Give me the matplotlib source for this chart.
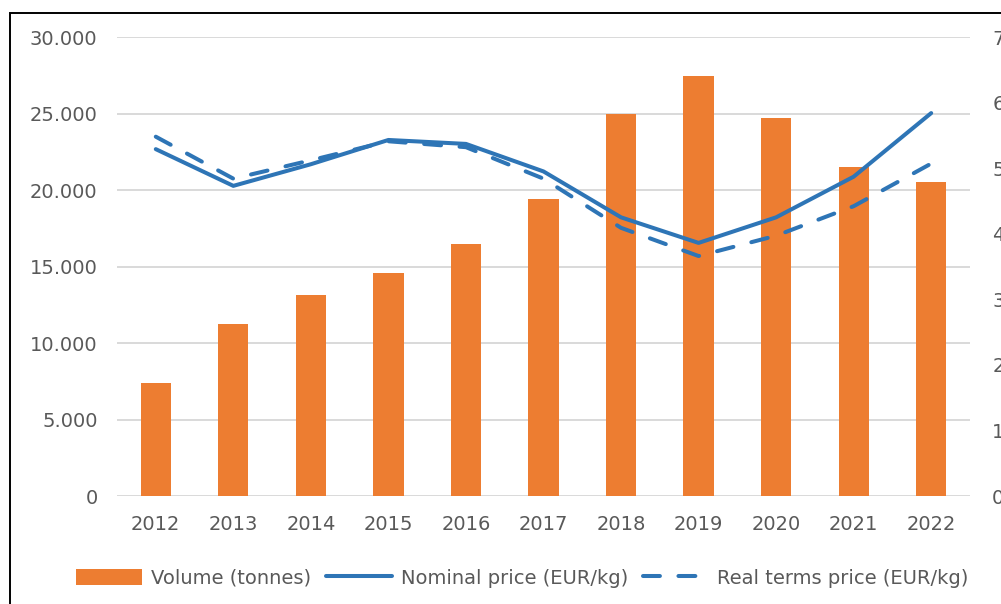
import matplotlib.pyplot as plt
from matplotlib.patches import Rectangle
from matplotlib.ticker import FuncFormatter
import numpy as np

years = ["2012", "2013", "2014", "2015", "2016", "2017", "2018", "2019", "2020", "2021", "2022"]
volume = [7400, 11250, 13150, 14600, 16450, 19400, 25000, 27450, 24700, 21500, 20500]
nominal_price = [5.29, 4.73, 5.06, 5.43, 5.37, 4.95, 4.25, 3.86, 4.25, 4.87, 5.84]
real_price = [5.48, 4.84, 5.12, 5.41, 5.32, 4.84, 4.09, 3.66, 3.97, 4.42, 5.07]

ORANGE = "#ED7D31"
BLUE = "#2E75B6"
GREY = "#595959"
GRID = "#D9D9D9"

plt.rcParams["font.family"] = ["Liberation Sans Narrow", "DejaVu Sans"]

fig = plt.figure(figsize=(10.01, 6.04), dpi=100)
ax = fig.add_axes([0.1169, 0.1788, 0.969 - 0.1169, 0.9387 - 0.1788])
ax2 = ax.twinx()

x = np.arange(len(years))
bars = ax.bar(x, volume, width=0.39, color=ORANGE, zorder=2, label="Volume (tonnes)")

ax.set_ylim(0, 30000)
ax.set_yticks(np.arange(0, 30001, 5000))
ax.yaxis.set_major_formatter(FuncFormatter(lambda v, _: f"{int(v):,}".replace(",", ".")))
ax.set_xlim(-0.5, len(years) - 0.5)
ax.set_xticks(x)
ax.set_xticklabels(years)
ax.grid(axis="y", color=GRID, lw=1.4, zorder=0)
ax.set_axisbelow(True)

(l1,) = ax2.plot(x, nominal_price, color=BLUE, lw=2.9, solid_capstyle="round",
                 solid_joinstyle="round", label="Nominal price (EUR/kg)", zorder=3)
(l2,) = ax2.plot(x, real_price, color=BLUE, lw=2.9, dashes=(4.2, 4.6), dash_capstyle="round",
                 label="Real terms price (EUR/kg)", zorder=3)
ax2.set_ylim(0, 7)
ax2.set_yticks(range(0, 8))

for a in (ax, ax2):
    for s in a.spines.values():
        s.set_visible(False)
    a.tick_params(length=0, labelsize=14, colors=GREY)
ax.tick_params(axis="y", pad=14)
ax.tick_params(axis="x", pad=14)
ax2.tick_params(axis="y", pad=16)

fig.legend(handles=[bars, l1, l2], loc="center", bbox_to_anchor=(0.522, 0.043), ncol=3,
           frameon=False, fontsize=14, labelcolor=GREY, handlelength=3.4,
           handletextpad=0.45, columnspacing=0.75, handleheight=0.9)

fig.patches.append(Rectangle((10 / 1001, -0.02), 1.05, 1 - 13 / 604 + 0.02,
                             transform=fig.transFigure, fill=False, ec="black", lw=1.4))

fig.savefig("out.png", dpi=100)
